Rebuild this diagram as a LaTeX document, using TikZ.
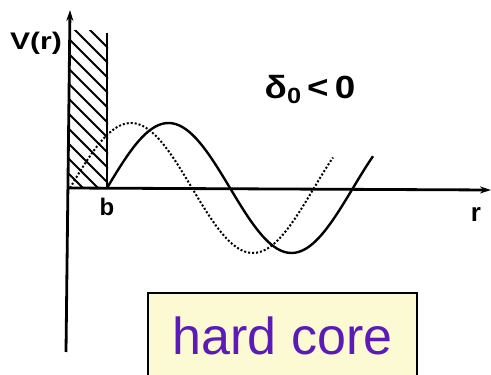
\documentclass[tikz,border=0pt]{standalone}
\usepackage{fontspec}
\setmainfont{Liberation Sans}
\usetikzlibrary{positioning, arrows.meta}
\definecolor{boxyellow}{RGB}{252,250,210}
\definecolor{corepurple}{RGB}{92,26,184}

\begin{document}
\begin{tikzpicture}[x=1pt, y=-1pt,
    axis/.style={line width=2.8pt, -{Stealth[length=11pt, width=7pt]}},
    wave/.style={line width=2.4pt},
    dotwave/.style={line width=2pt, dotted},
    hatch/.style={line width=1.9pt},
    lbl/.style={font=\bfseries\fontsize{24}{26}\selectfont, inner sep=0pt}
]
\useasboundingbox (0,0) rectangle (491,375);

% === AXES ===
\coordinate (origin) at (69,188);
\coordinate (vbot) at (66,352);
\coordinate (vtop) at (70,10);
\coordinate (rend) at (491,190);
\draw[axis] (vbot) -- (vtop);
\draw[axis] (origin) -- (rend);

% === HARD CORE WALL ===
\coordinate (wallbot) at (107,188);
\coordinate (walltop) at (107,33);
\begin{scope}
  \clip (origin) rectangle (108,30);
  \foreach \y in {8,23,...,188}
    \draw[hatch] (68,\y) -- ++(42,42);
\end{scope}
\draw[line width=2.6pt] (wallbot) -- (walltop);

% === WAVES ===
% free wave (dotted) and shifted wave (solid)
\draw[dotwave] plot[domain=70:333, samples=90] (\x, {188-65*sin(1.47541*(\x-70))});
\draw[wave] plot[domain=107:373, samples=90] (\x, {188-65*sin(1.46341*(\x-107))});

% === LABELS ===
\node[lbl, anchor=east, xscale=1.25] (vlabel) at (62,43) {V(r)};
\node[lbl, below=10pt of wallbot] (blabel) {b};
\node[lbl, font=\bfseries\fontsize{26}{28}\selectfont] (rlabel) at (476,214) {r};
\node[lbl, font=\bfseries\fontsize{32}{34}\selectfont, xscale=1.15] (delta) at (310,90) {δ\raisebox{-5pt}{\fontsize{22}{24}\selectfont 0}\,<\,0};

% === HARD CORE BOX ===
\node[draw, line width=1.6pt, fill=boxyellow, minimum width=269pt, minimum height=86pt,
      text=corepurple, font=\fontsize{52}{56}\selectfont] (corebox) at (282.5,336) {hard core};

\end{tikzpicture}
\end{document}
